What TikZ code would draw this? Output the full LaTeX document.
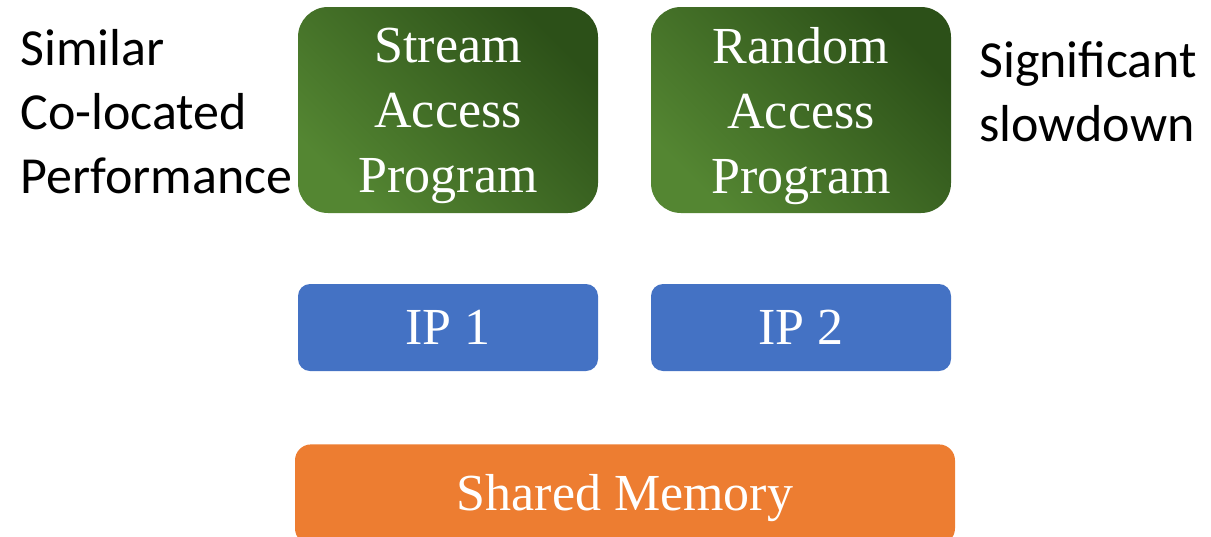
\documentclass[tikz,border=0pt]{standalone}
\usepackage{fontspec}
\setmainfont{Liberation Serif}
\newfontfamily\calibri{Carlito}
\definecolor{gLight}{RGB}{84,134,50}
\definecolor{gDark}{RGB}{44,80,24}
\definecolor{ipBlue}{RGB}{68,114,196}
\definecolor{memOrange}{RGB}{237,125,49}
\begin{document}
\begin{tikzpicture}[x=0.5pt,y=-0.5pt,
  progbox/.style={rounded corners=15pt, minimum width=150pt, minimum height=103pt,
    inner sep=0pt, bottom color=gLight, top color=gDark, shading angle=-45},
  boxtext/.style={inner sep=0pt, text=white, font=\fontsize{26}{32.5}\selectfont, align=center},
  ipbox/.style={rounded corners=6pt, fill=ipBlue, minimum width=150pt, minimum height=43.5pt,
    inner sep=0pt, text=white, font=\fontsize{26}{32.5}\selectfont},
  membox/.style={rounded corners=8pt, fill=memOrange, minimum width=330pt, minimum height=50pt,
    inner sep=0pt},
  note/.style={inner sep=0pt, align=left, font=\calibri\fontsize{26}{32}\selectfont, text=black}]
\useasboundingbox (0,0) rectangle (1211,536);
\begin{scope}
\clip (0,0) rectangle (1211,536);
\node[membox, anchor=north] (mem) at (625,444) {};
\end{scope}
\node[boxtext, anchor=base] (memtext) at (625,510) {Shared Memory};
\node[progbox] (stream) at (448,110) {};
\node[boxtext] (streamtext) at (448,116) {Stream\\Access\\Program};
\node[progbox] (random) at (801,110) {};
\node[boxtext] (randomtext) at (801,116) {Random\\Access\\Program};
\node[ipbox] (ip1) at (448,327.5) {IP 1};
\node[ipbox] (ip2) at (801,327.5) {IP 2};
\node[note, anchor=west] (left) at (20,112) {Similar\\Co-located\\Performance};
\node[note, anchor=west] (right) at (979,92) {Significant\\slowdown};
\end{tikzpicture}
\end{document}
